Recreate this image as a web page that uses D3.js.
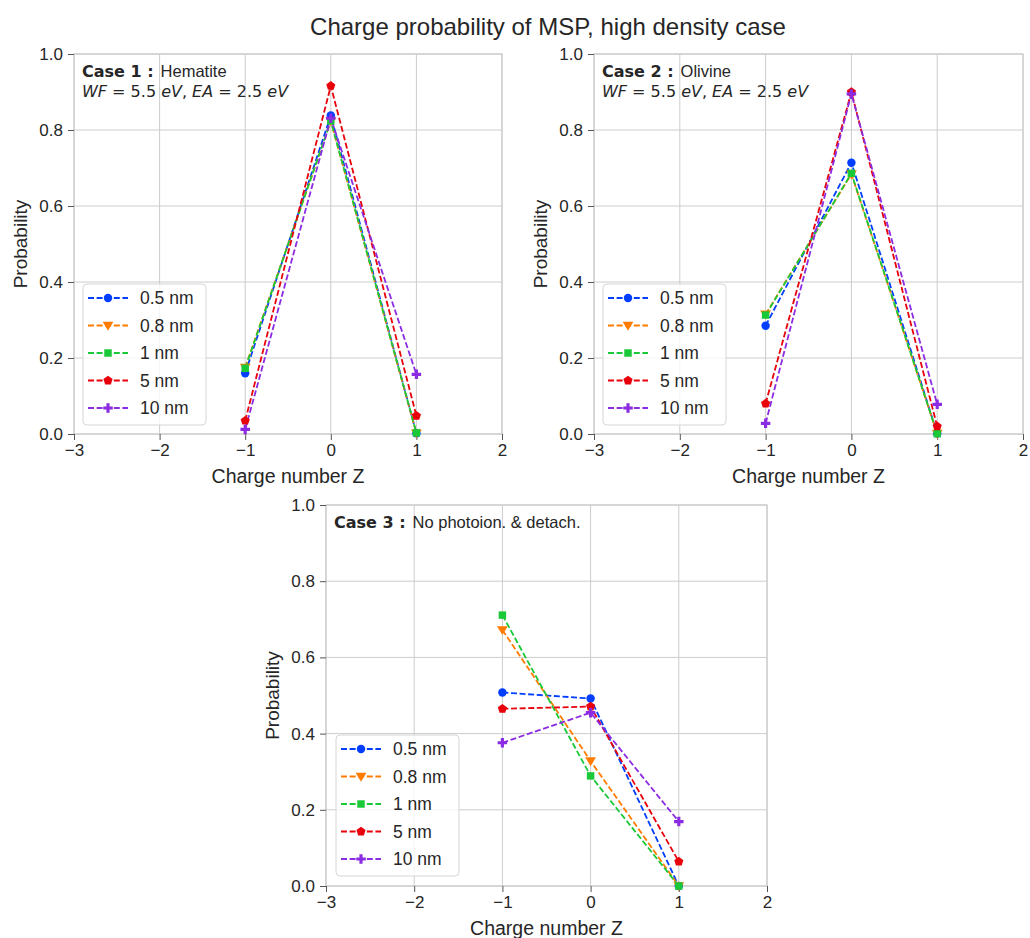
<!DOCTYPE html>
<html><head><meta charset="utf-8">
<script src="https://cdn.jsdelivr.net/npm/d3@7"></script>
<style>body{margin:0;background:#fff;} svg{display:block;}</style>
</head><body>
<script>
const chargeZ = [-1, 0, 1];
const seriesNames = ["0.5 nm", "0.8 nm", "1 nm", "5 nm", "10 nm"];
const colors = ["#023eff", "#ff7c00", "#1ac938", "#e8000b", "#8b2be2"];
const markers = ["circle", "triangle", "square", "pentagon", "plus"];
const xTicks = [-3, -2, -1, 0, 1, 2];
const yTicks = [0.0, 0.2, 0.4, 0.6, 0.8, 1.0];

// Case 1: Hematite
const case1_05 = [0.160, 0.838, 0.002];
const case1_08 = [0.175, 0.823, 0.002];
const case1_1  = [0.173, 0.824, 0.003];
const case1_5  = [0.035, 0.916, 0.048];
const case1_10 = [0.012, 0.831, 0.157];
// Case 2: Olivine
const case2_05 = [0.285, 0.714, 0.001];
const case2_08 = [0.315, 0.684, 0.001];
const case2_1  = [0.313, 0.686, 0.001];
const case2_5  = [0.080, 0.900, 0.020];
const case2_10 = [0.028, 0.895, 0.078];
// Case 3: No photoion. & detach.
const case3_05 = [0.508, 0.492, 0.000];
const case3_08 = [0.672, 0.328, 0.000];
const case3_1  = [0.711, 0.289, 0.000];
const case3_5  = [0.465, 0.471, 0.064];
const case3_10 = [0.376, 0.455, 0.169];

const panels = [
  {box:[74,502,54,434], data:[case1_05,case1_08,case1_1,case1_5,case1_10], caseLabel:"Case 1 :", name:"Hematite", math:true, legend:[83,284]},
  {box:[594,1023,54,434], data:[case2_05,case2_08,case2_1,case2_5,case2_10], caseLabel:"Case 2 :", name:"Olivine", math:true, legend:[603,284]},
  {box:[326,767,505,886], data:[case3_05,case3_08,case3_1,case3_5,case3_10], caseLabel:"Case 3 :", name:"No photoion. & detach.", math:false, legend:[336,735]}
];

const W = 1030, H = 938;
const svg = d3.select("body").append("svg").attr("width", W).attr("height", H);
const FONT = "'Liberation Sans', Arial, sans-serif";
const DJ = "'DejaVu Sans', sans-serif";
const textCol = "#262626";

svg.append("text").attr("x", 548).attr("y", 35).attr("text-anchor","middle")
  .attr("font-family", FONT).attr("font-size", 24).attr("fill", textCol)
  .text("Charge probability of MSP, high density case");

function markerPath(type) {
  const map = {circle: d3.symbolCircle, square: d3.symbolSquare, plus: d3.symbolCross};
  if (type === "triangle") {
    const s = 5.4;
    return `M${-s},${-s*0.7}L${s},${-s*0.7}L0,${s*0.95}Z`;
  }
  if (type === "pentagon") {
    const r = 4.8; let p = "";
    for (let i = 0; i < 5; i++) {
      const a = -Math.PI/2 + i * 2*Math.PI/5;
      p += (i ? "L" : "M") + (r*Math.cos(a)).toFixed(2) + "," + (r*Math.sin(a)).toFixed(2);
    }
    return p + "Z";
  }
  const areas = {circle: 56, square: 56, plus: 50};
  return d3.symbol().type(map[type]).size(areas[type])();
}

panels.forEach(p => {
  const [x0,x1,y0,y1] = p.box;
  const x = d3.scaleLinear().domain([-3,2]).range([x0,x1]);
  const y = d3.scaleLinear().domain([0,1]).range([y1,y0]);
  const g = svg.append("g");

  // grid
  g.selectAll(".gx").data(xTicks).enter().append("line")
    .attr("x1", d=>x(d)).attr("x2", d=>x(d)).attr("y1", y0).attr("y2", y1)
    .attr("stroke", "#cccccc").attr("stroke-width", 1);
  g.selectAll(".gy").data(yTicks).enter().append("line")
    .attr("x1", x0).attr("x2", x1).attr("y1", d=>y(d)).attr("y2", d=>y(d))
    .attr("stroke", "#cccccc").attr("stroke-width", 1);
  // frame
  g.append("rect").attr("x", x0).attr("y", y0).attr("width", x1-x0).attr("height", y1-y0)
    .attr("fill","none").attr("stroke","#cccccc").attr("stroke-width",1.2);

  // axes
  const xa = g.append("g").attr("transform", `translate(0,${y1})`)
    .call(d3.axisBottom(x).tickValues(xTicks).tickSize(6).tickPadding(4).tickFormat(d => d < 0 ? "\u2212" + Math.abs(d) : d));
  const ya = g.append("g").attr("transform", `translate(${x0},0)`)
    .call(d3.axisLeft(y).tickValues(yTicks).tickSize(6).tickPadding(5).tickFormat(d3.format(".1f")));
  [xa, ya].forEach(a => {
    a.select(".domain").remove();
    a.selectAll(".tick line").attr("stroke", "#555").attr("stroke-width", 1);
    a.selectAll(".tick text").attr("font-family", FONT).attr("font-size", 17).attr("fill", textCol);
  });

  g.append("text").attr("x", (x0+x1)/2).attr("y", y1+49).attr("text-anchor","middle")
    .attr("font-family", FONT).attr("font-size", 19.5).attr("fill", textCol).text("Charge number Z");
  g.append("text").attr("transform", `translate(${x0-47},${(y0+y1)/2}) rotate(-90)`).attr("text-anchor","middle")
    .attr("font-family", FONT).attr("font-size", 19).attr("fill", textCol).text("Probability");

  // lines
  const line = d3.line().x((d,i)=>x(chargeZ[i])).y(d=>y(d));
  p.data.forEach((vals, si) => {
    g.append("path").attr("d", line(vals)).attr("fill","none")
      .attr("stroke", colors[si]).attr("stroke-width", 1.8).attr("stroke-dasharray", "6,2.6");
  });
  p.data.forEach((vals, si) => {
    g.selectAll(null).data(vals).enter().append("path")
      .attr("d", markerPath(markers[si]))
      .attr("transform", (d,i)=>`translate(${x(chargeZ[i])},${y(d)})`)
      .attr("fill", colors[si]);
  });

  // annotation
  const t = g.append("text").attr("x", x0+8).attr("y", y0+23).attr("fill", textCol);
  t.append("tspan").attr("font-family", DJ).attr("font-weight","bold").attr("font-size", 16).text(p.caseLabel);
  t.append("tspan").attr("font-family", FONT).attr("font-size", 16.5).attr("dx", 7).text(p.name);
  if (p.math) {
    const m = g.append("text").attr("x", x0+8).attr("y", y0+43).attr("font-size", 16)
      .attr("fill", textCol).attr("font-family", DJ);
    const parts = [["WF",1],[" = ",0],["5.5",0],[" eV",1],[",  ",0],["EA",1],[" = ",0],["2.5",0],[" eV",1]];
    parts.forEach(([s,it]) => m.append("tspan").attr("font-style", it ? "italic" : "normal").text(s));
  }

  // legend
  const [lx, ly] = p.legend;
  const lg = g.append("g").attr("transform", `translate(${lx},${ly})`);
  lg.append("rect").attr("width", 123).attr("height", 141).attr("rx", 4)
    .attr("fill", "rgba(255,255,255,0.8)").attr("stroke", "#d6d6d6").attr("stroke-width", 1);
  seriesNames.forEach((nm, si) => {
    const yy = 14 + si * 27.5;
    lg.append("line").attr("x1", 5).attr("x2", 45).attr("y1", yy).attr("y2", yy)
      .attr("stroke", colors[si]).attr("stroke-width", 1.8).attr("stroke-dasharray", "6,2.6");
    lg.append("path").attr("d", markerPath(markers[si])).attr("transform", `translate(25,${yy})`).attr("fill", colors[si]);
    lg.append("text").attr("x", 57).attr("y", yy + 6).attr("font-family", FONT).attr("font-size", 17.5)
      .attr("fill", textCol).text(nm);
  });
});
</script>
</body></html>
